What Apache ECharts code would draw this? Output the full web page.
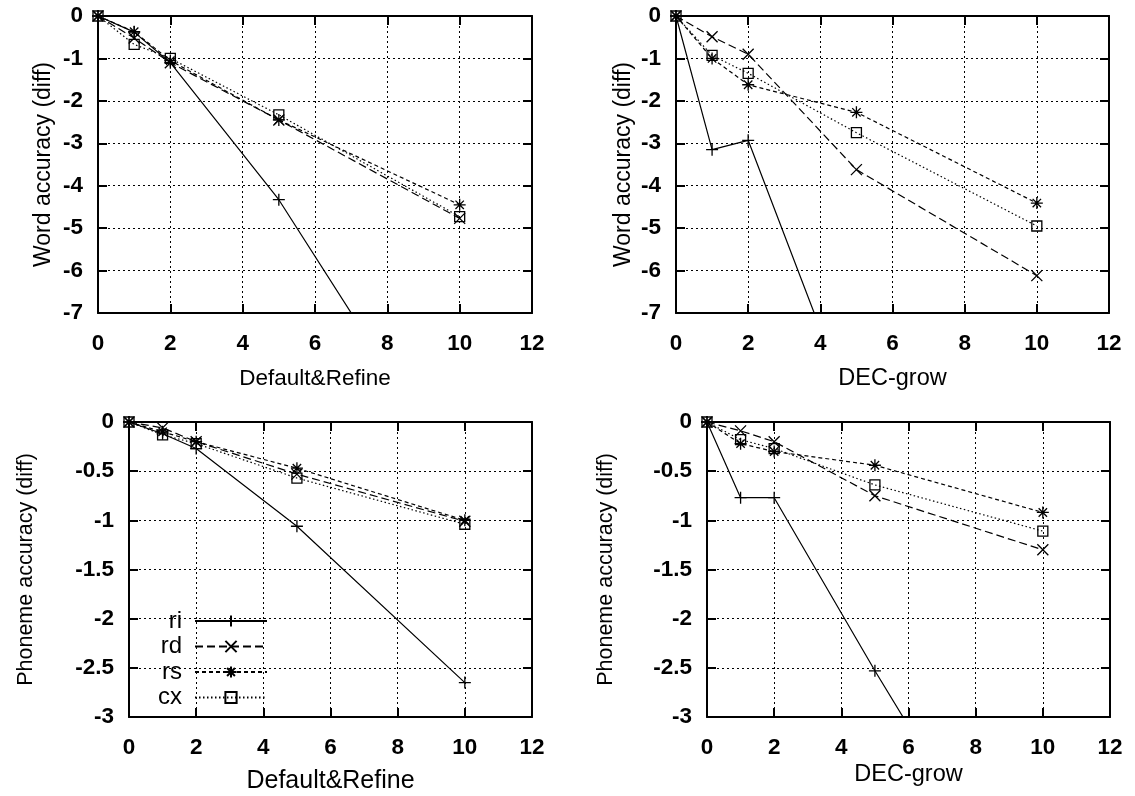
<!DOCTYPE html>
<html><head><meta charset="utf-8">
<script src="https://cdn.jsdelivr.net/npm/echarts@6/dist/echarts.min.js"></script>
<style>html,body{margin:0;padding:0;background:#fff}#c{width:1135px;height:796px}</style>
</head><body><div id="c"></div>
<script>
// ---------- data ----------
const xValues = [0, 1, 2, 5, 10];
const seriesNames = ['ri', 'rd', 'rs', 'cx'];
const xAxisNames = ['Default&Refine', 'DEC-grow', 'Default&Refine', 'DEC-grow'];
const yAxisNames = ['Word accuracy (diff)', 'Word accuracy (diff)', 'Phoneme accuracy (diff)', 'Phoneme accuracy (diff)'];
const wordYRange = [-7, 0, 1];
const phonYRange = [-3, 0, 0.5];
const xRange = [0, 12, 2];

// Word accuracy, Default&Refine
const wordDefault_ri = [0, -0.38, -1.1, -4.33, -11.0];
const wordDefault_rd = [0, -0.52, -1.1, -2.45, -4.77];
const wordDefault_rs = [0, -0.37, -1.05, -2.45, -4.45];
const wordDefault_cx = [0, -0.67, -1.0, -2.33, -4.73];
// Word accuracy, DEC-grow
const wordDec_ri = [0, -3.15, -2.93, -9.6, null];
const wordDec_rd = [0, -0.49, -0.9, -3.62, -6.12];
const wordDec_rs = [0, -1.0, -1.62, -2.27, -4.41];
const wordDec_cx = [0, -0.93, -1.35, -2.75, -4.95];
// Phoneme accuracy, Default&Refine
const phonDefault_ri = [0, -0.12, -0.27, -1.06, -2.65];
const phonDefault_rd = [0, -0.06, -0.2, -0.53, -1.01];
const phonDefault_rs = [0, -0.1, -0.2, -0.47, -1.0];
const phonDefault_cx = [0, -0.13, -0.22, -0.57, -1.04];
// Phoneme accuracy, DEC-grow
const phonDec_ri = [0, -0.77, -0.77, -2.53, -5.34];
const phonDec_rd = [0, -0.09, -0.2, -0.75, -1.3];
const phonDec_rs = [0, -0.22, -0.3, -0.44, -0.92];
const phonDec_cx = [0, -0.18, -0.27, -0.64, -1.11];

const panels = [
  [wordDefault_ri, wordDefault_rd, wordDefault_rs, wordDefault_cx],
  [wordDec_ri, wordDec_rd, wordDec_rs, wordDec_cx],
  [phonDefault_ri, phonDefault_rd, phonDefault_rs, phonDefault_cx],
  [phonDec_ri, phonDec_rd, phonDec_rs, phonDec_cx]
];

// ---------- styles / layout ----------
const FONT = "'Liberation Sans', Arial, Helvetica, sans-serif";
const grids = [
  {left: 98, top: 16, width: 434, height: 297},
  {left: 676, top: 16, width: 433, height: 297},
  {left: 129, top: 422, width: 403, height: 295},
  {left: 707, top: 422, width: 403, height: 295}
];
const yNameGaps = [43, 41, 92, 90];
const yNameSizes = [23, 23, 21.5, 21.5];
const xNameGaps = [54, 54, 52, 46];
const xNameSizes = [22.5, 23.5, 25, 23.5];
const seriesStyles = {
  ri: {symbol: 'path://M0,5L10,5M5,0L5,10', size: 12, dash: 'solid'},
  rd: {symbol: 'path://M0,0L10,10M10,0L0,10', size: 11, dash: [8, 4]},
  rs: {symbol: 'path://M0,5L10,5M5,0L5,10M1.5,1.5L8.5,8.5M8.5,1.5L1.5,8.5', size: 12, dash: [4, 3]},
  cx: {symbol: 'rect', size: 10, dash: [1.5, 2.5]}
};

const xAxes = [], yAxes = [], series = [];
grids.forEach((g, i) => {
  const yr = i < 2 ? wordYRange : phonYRange;
  const tickStyle = {show: true, inside: true, length: 9, lineStyle: {color: '#000', width: 2}};
  const lineStyle = {show: true, onZero: false, lineStyle: {color: '#000', width: 2}};
  const split = {show: true, lineStyle: {color: '#000', width: 1, type: [2, 3]}};
  xAxes.push({
    gridIndex: i, type: 'value', min: xRange[0], max: xRange[1], interval: xRange[2],
    position: 'bottom', axisLine: lineStyle, axisTick: tickStyle, splitLine: split,
    axisLabel: {fontSize: 22.5, fontWeight: 'bold', color: '#000', margin: 19, fontFamily: FONT},
    name: xAxisNames[i], nameLocation: 'middle', nameGap: xNameGaps[i],
    nameTextStyle: {fontSize: xNameSizes[i], color: '#000', fontFamily: FONT}
  });
  xAxes.push({
    gridIndex: i, type: 'value', min: xRange[0], max: xRange[1], interval: xRange[2],
    position: 'top', axisLine: lineStyle, axisTick: tickStyle, splitLine: {show: false},
    axisLabel: {show: false}
  });
  yAxes.push({
    gridIndex: i, type: 'value', min: yr[0], max: yr[1], interval: yr[2],
    position: 'left', axisLine: lineStyle, axisTick: tickStyle, splitLine: split,
    axisLabel: {fontSize: 22.5, fontWeight: 'bold', color: '#000', margin: 15, fontFamily: FONT},
    name: yAxisNames[i], nameLocation: 'middle', nameGap: yNameGaps[i],
    nameTextStyle: {fontSize: yNameSizes[i], color: '#000', fontFamily: FONT}
  });
  yAxes.push({
    gridIndex: i, type: 'value', min: yr[0], max: yr[1], interval: yr[2],
    position: 'right', axisLine: lineStyle, axisTick: tickStyle, splitLine: {show: false},
    axisLabel: {show: false}
  });
  panels[i].forEach((vals, k) => {
    const nm = seriesNames[k];
    const st = seriesStyles[nm];
    series.push({
      type: 'line', name: nm, xAxisIndex: i * 2, yAxisIndex: i * 2,
      data: xValues.map((x, j) => [x, vals[j]]),
      clip: true, symbol: st.symbol, symbolSize: st.size, showAllSymbol: true,
      itemStyle: {color: 'none', borderColor: '#000', borderWidth: 1.3},
      lineStyle: {color: '#000', width: 1.2, type: st.dash},
      emphasis: {disabled: true}, z: 3
    });
  });
});

const chart = echarts.init(document.getElementById('c'), null, {renderer: 'canvas'});
chart.setOption({
  animation: false,
  backgroundColor: '#fff',
  grid: grids.map(g => Object.assign({containLabel: false}, g)),
  xAxis: xAxes,
  yAxis: yAxes,
  legend: {
    data: seriesNames, orient: 'vertical', align: 'right',
    right: 867, top: 609, padding: 0,
    itemWidth: 72, itemHeight: 14, itemGap: 1.5,
    textStyle: {fontSize: 24, color: '#000', fontFamily: FONT, lineHeight: 22.5, padding: [0, 8, 0, 0]}
  },
  series: series
});
</script>
</body></html>
